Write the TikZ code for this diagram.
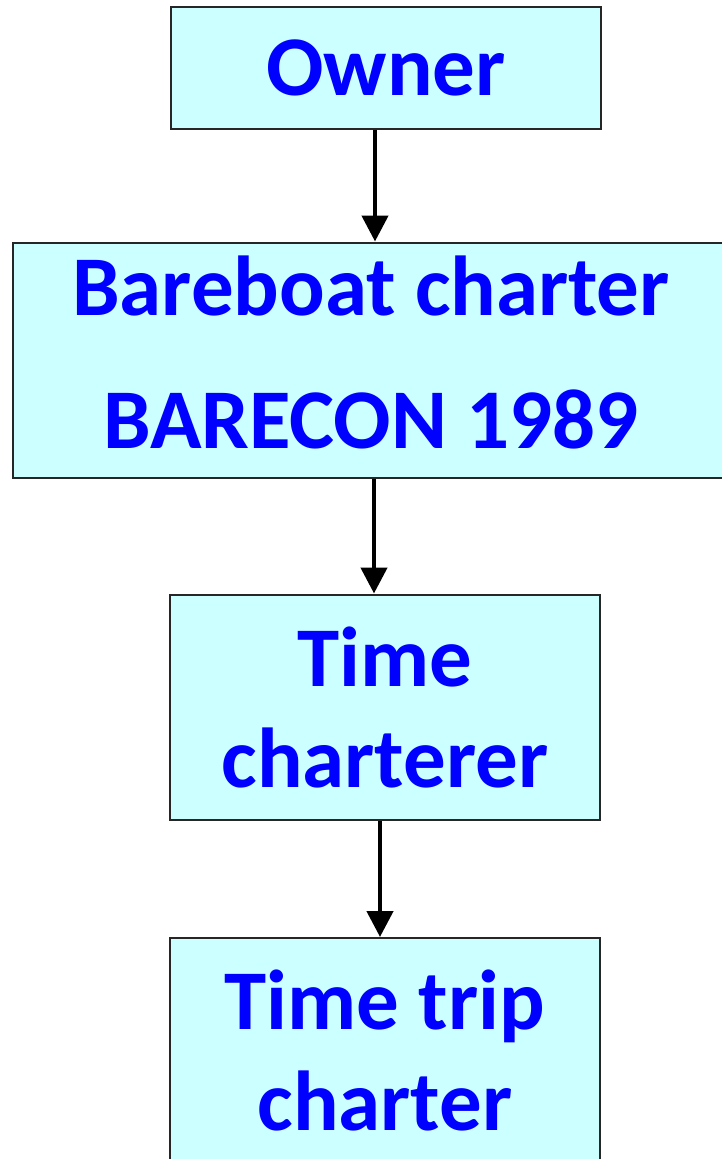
\documentclass[tikz,border=0pt]{standalone}
\usepackage{fontspec}
\setmainfont{Carlito}
\usetikzlibrary{arrows.meta}
\definecolor{boxcyan}{HTML}{CCFFFF}
\definecolor{textblue}{HTML}{0000FF}

\begin{document}
\begin{tikzpicture}[x=1pt, y=-1pt,
  party/.style={draw=black!85, line width=2pt, fill=boxcyan, text=textblue,
    font=\bfseries\fontsize{85}{101}\selectfont, align=center, inner sep=0pt,
    minimum width=430pt},
  link/.style={line width=4.5pt, -{Triangle[length=26pt, width=26pt]}}]
  \useasboundingbox (0,0) rectangle (722,1159);
  % chain of charters, top to bottom
  \node[party, minimum height=122pt] (owner) at (386,68) {Owner};
  \node[party, minimum width=716pt, minimum height=235pt, text depth=16pt,
    font=\bfseries\fontsize{85}{133}\selectfont] (bareboat) at (371,360)
    {Bareboat charter\\BARECON 1989};
  \node[party, minimum height=225pt] (timech) at (385,707) {Time\\charterer};
  \node[party, minimum height=224pt] (triptc) at (385,1050) {Time trip\\charter};

  \draw[link] ([xshift=-11pt]owner.south) -- ([xshift=4pt]bareboat.north);
  \draw[link] ([xshift=3pt]bareboat.south) -- ([xshift=-11pt]timech.north);
  \draw[link] ([xshift=-5pt]timech.south) -- ([xshift=-5pt]triptc.north);
\end{tikzpicture}
\end{document}
